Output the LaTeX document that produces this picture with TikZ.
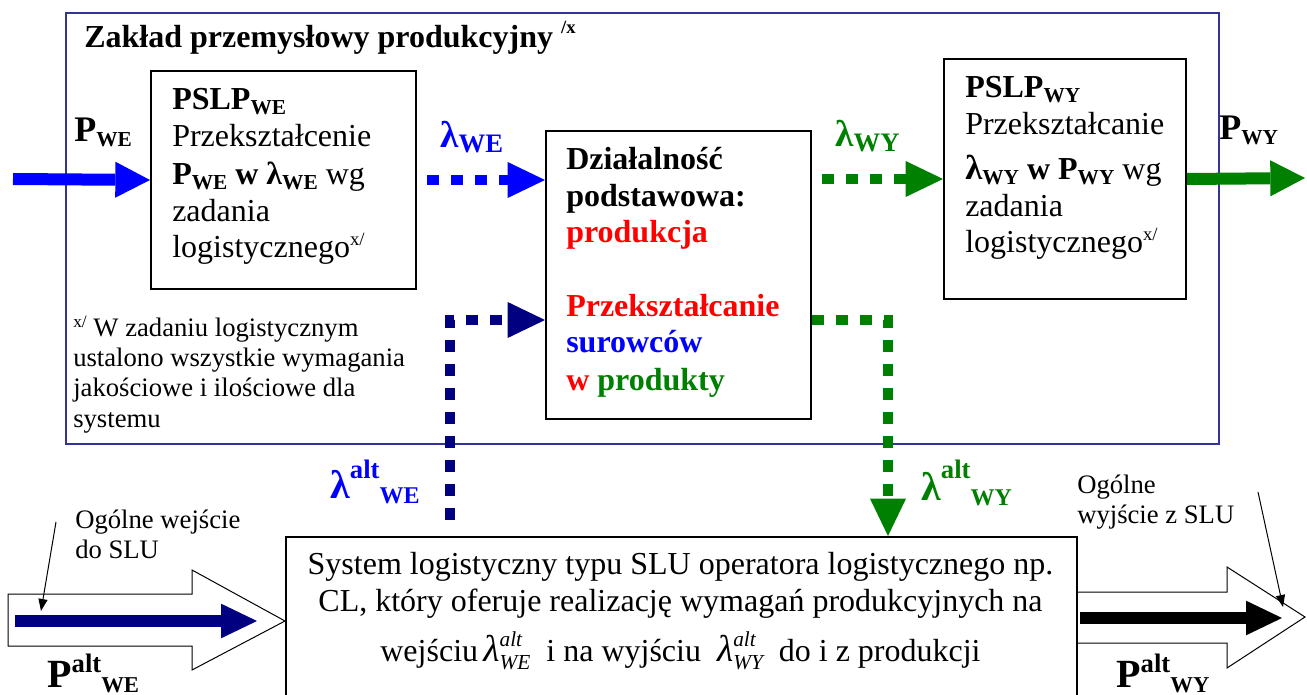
\documentclass[tikz,border=0pt]{standalone}
\usepackage{fontspec}
\setmainfont{Liberation Serif}
\usetikzlibrary{arrows.meta,calc}
\definecolor{frameC}{RGB}{51,51,153}
\definecolor{blueC}{RGB}{0,0,255}
\definecolor{navyC}{RGB}{0,0,128}
\definecolor{greenC}{RGB}{0,128,0}
\definecolor{redC}{RGB}{255,0,0}
\newcommand{\fs}[1]{\fontsize{#1}{#1}\selectfont}
\newcommand{\sbs}[2][16]{\raisebox{-3.5pt}{\fs{#1}#2}}
\newcommand{\lalt}[1]{{\fs{28}\itshape λ}\makebox[0pt][l]{\raisebox{11pt}{\fs{16}\itshape alt}}\raisebox{-6pt}{\fs{16}\itshape #1}}
\begin{document}
\begin{tikzpicture}[x=0.75pt,y=-0.75pt,
  box/.style={draw=black,line width=1.5pt,fill=white,inner sep=0pt,anchor=north west},
  txt/.style={inner sep=0pt,anchor=base west,font=\fs{24}},
  ctxt/.style={inner sep=0pt,anchor=base,font=\fs{24}},
  small/.style={inner sep=0pt,anchor=base west,font=\fs{20}},
  bigarrow/.style={line width=9pt,-{Triangle[length=26pt 0 0,width=27pt 0 0,line width=0pt 0 0]}},
  dotarrow/.style={line width=7.5pt,dash pattern=on 9pt off 9pt,-{Triangle[length=28pt 0 0,width=27pt 0 0,line width=0pt 0 0]}},
  innerarrow/.style={line width=9pt,-{Triangle[length=27pt 0 0,width=26pt 0 0,line width=0pt 0 0]}},
  thinarrow/.style={line width=0.75pt,-{Triangle[length=9pt 0 0,width=7pt 0 0,line width=0pt 0 0]}},
  hollow/.style={draw=black,line width=0.75pt,fill=white,line join=miter},
]
\useasboundingbox (0,0) rectangle (1307,695);
\clip (0,0) rectangle (1307,695);

% frame and boxes
\node[box,draw=frameC,fill=none,minimum width=864.75pt,minimum height=323.25pt] (frame) at (65,12) {};
\node[box,minimum width=198.75pt,minimum height=163.5pt] (box1) at (150,70) {};
\node[box,minimum width=198.75pt,minimum height=216pt] (box2) at (545,130) {};
\node[box,minimum width=181.5pt,minimum height=180pt] (box3) at (943,58) {};
\node[box,minimum width=593.25pt,minimum height=126pt] (slu) at (285,536) {};

% coordinates
\coordinate (inL) at (13,179);
\coordinate (outR) at (1305,178);
\coordinate (navyS) at (450,520);
\coordinate (lowY) at (0,320);
\coordinate (gX) at (888,0);

% top arrows
\draw[bigarrow,blueC] (inL) -- (box1.west);
\draw[dotarrow,blueC] ($(box1.east)+(10,0)$) -- (box1.east -| box2.west);
\draw[dotarrow,greenC] ($(box3.west -| box2.east)+(10,0)$) -- (box3.west);
\draw[bigarrow,greenC] (box3.east) -- (outR);

% alt connectors
\draw[dotarrow,navyC] (navyS) |- (box2.west |- lowY);
\draw[dotarrow,greenC] (box2.east |- lowY) -| (slu.north -| gX);

% hollow arrows
\draw[hollow] (8,594) -- (192,594) -- (192,570) -- (slu.west) -- (192,670) -- (192,646) -- (8,646) -- cycle;
\coordinate (outTip) at (1305,617);
\draw[hollow,fill=none] (slu.east |- 0,592) -- (1227,592) -- (1227,567) -- (outTip) -- (1227,668) -- (1227,643) -- (slu.east |- 0,643);
\coordinate (nvS) at (15,621);
\coordinate (nvE) at (257,621);
\draw[innerarrow,navyC] (nvS) -- (nvE);
\coordinate (bkS) at (1080,618);
\coordinate (bkE) at (1282,618);
\draw[innerarrow,black] (bkS) -- (bkE);

% thin pointer arrows
\coordinate (ow1) at (56,522);
\coordinate (ow2) at (41,611);
\draw[thinarrow] (ow1) -- (ow2);
\coordinate (oy1) at (1258,492);
\coordinate (oy2) at (1283,607);
\draw[thinarrow] (oy1) -- (oy2);

% title
\node[txt,font=\fs{24}\bfseries] (title) at (84,48) {Zakład przemysłowy produkcyjny \raisebox{11pt}{\fs{14}/x}};

% labels on top arrows
\node[txt,font=\fs{27}\bfseries] (pwe) at (74,142) {P\raisebox{-3.75pt}{\fs{16}WE}};
\node[txt,font=\fs{28}\bfseries,text=blueC] (lwe) at (440,148) {λ\raisebox{-3.75pt}{\fs{20}WE}};
\node[txt,font=\fs{28}\bfseries,text=greenC] (lwy) at (835,147) {λ\raisebox{-3.75pt}{\fs{20}WY}};
\node[txt,font=\fs{27}\bfseries] (pwy) at (1219,140) {P\raisebox{-3.75pt}{\fs{16}WY}};

% box 1 text
\node[txt] (b1a) at (172,110) {\bfseries PSLP\sbs{WE}};
\node[txt] (b1b) at (172,147) {Przekształcenie};
\node[txt] (b1c) at (172,185) {{\bfseries P\sbs{WE} w λ\sbs{WE}} wg};
\node[txt] (b1d) at (172,222) {zadania};
\node[txt] (b1e) at (172,258) {logistycznego\raisebox{9pt}{\fs{14}x/}};

% box 2 text
\node[txt,font=\fs{24}\bfseries] (b2a) at (566,170) {Działalność};
\node[txt,font=\fs{24}\bfseries] (b2b) at (566,207) {podstawowa:};
\node[txt,font=\fs{24}\bfseries,text=redC] (b2c) at (566,243) {produkcja};
\node[txt,font=\fs{24}\bfseries,text=redC] (b2d) at (566,317) {Przekształcanie};
\node[txt,font=\fs{24}\bfseries,text=blueC] (b2e) at (566,353) {surowców};
\node[txt,font=\fs{24}\bfseries] (b2f) at (566,390) {\textcolor{redC}{w} \textcolor{greenC}{produkty}};

% box 3 text
\node[txt] (b3a) at (965,98) {\bfseries PSLP\sbs{WY}};
\node[txt] (b3b) at (965,135) {Przekształcanie};
\node[txt] (b3c) at (965,180) {{\bfseries {\fs{26}λ}\sbs{WY} w P\sbs{WY}} wg};
\node[txt] (b3d) at (965,217) {zadania};
\node[txt] (b3e) at (965,253) {logistycznego\raisebox{9pt}{\fs{14}x/}};

% footnote
\node[small] (fn1) at (73,337) {\raisebox{7pt}{\fs{13}x/} W zadaniu logistycznym};
\node[small] (fn2) at (73,367) {ustalono wszystkie wymagania};
\node[small] (fn3) at (73,397) {jakościowe i ilościowe dla};
\node[small] (fn4) at (73,427) {systemu};

% alt labels
\node[txt,font=\bfseries,text=blueC] (lawe) at (330,498) {\fs{30}λ\raisebox{15pt}{\fs{20}alt}\raisebox{-3.75pt}{\fs{18}WE}};
\node[txt,font=\bfseries,text=greenC] (lawy) at (921,500) {\fs{30}λ\raisebox{16.5pt}{\fs{20}alt}\raisebox{-3.75pt}{\fs{18}WY}};

% bottom labels
\node[small] (ogwe1) at (75,528) {Ogólne wejście};
\node[small] (ogwe2) at (75,558) {do SLU};
\node[small] (ogwy1) at (1077,493) {Ogólne};
\node[small] (ogwy2) at (1077,523) {wyjście z SLU};
\node[txt,font=\bfseries] (pawe) at (47,687) {\fs{30}P\raisebox{11.25pt}{\fs{20}alt}\raisebox{-3.75pt}{\fs{17}WE}};
\node[txt,font=\bfseries] (pawy) at (1116,687) {\fs{30}P\raisebox{11.25pt}{\fs{20}alt}\raisebox{-3.75pt}{\fs{17}WY}};

% SLU text
\node[ctxt] (s1) at (680.5,574) {System logistyczny typu SLU operatora logistycznego np.};
\node[ctxt] (s2) at (680.5,611) {CL, który oferuje realizację wymagań produkcyjnych na};
\node[ctxt] (s3) at (680.5,661) {wejściu\,\lalt{WE}\ \ i na wyjściu\ \ \lalt{WY}\ \ do i z produkcji};
\end{tikzpicture}
\end{document}
